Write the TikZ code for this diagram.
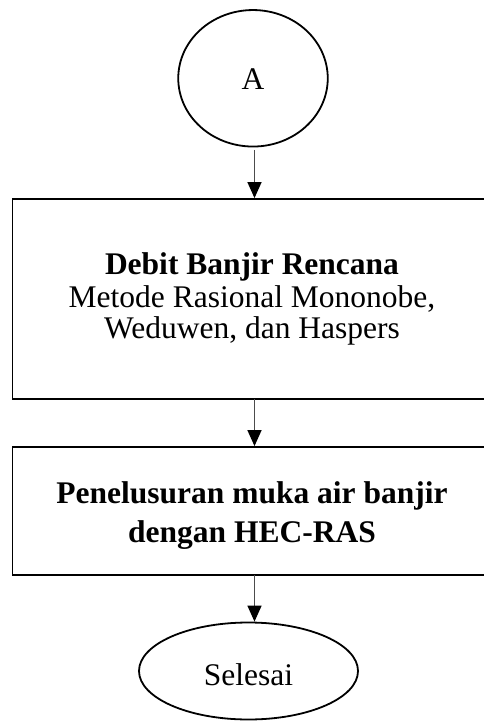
\documentclass[tikz,border=0pt]{standalone}
\usepackage{fontspec}
\setmainfont{Liberation Serif}
\usetikzlibrary{arrows.meta,shapes.geometric}
\begin{document}
\begin{tikzpicture}[x=1pt,y=-1pt,
  font=\fontsize{31.5}{36}\selectfont,
  shapeline/.style={draw=black,line width=1.8pt},
  procbox/.style={shapeline,rectangle,minimum width=483.5pt,inner sep=0pt},
  txt/.style={anchor=base,inner sep=0pt},
  arr/.style={draw=black!70,line width=1.4pt,-{Triangle[length=16pt,width=14pt,color=black]},shorten >=0pt}]
\useasboundingbox (0,0) rectangle (483,722);
% start connector
\node[shapeline,ellipse,minimum width=149.5pt,minimum height=136.5pt,inner sep=0pt,
      text height=23.4pt,text depth=0pt] (A) at (253,78.3) {A};
% box 1
\node[procbox,minimum height=200pt] (box1) at (254.25,299) {};
\node[txt] (b1a) at (252,274) {\textbf{Debit Banjir Rencana}};
\node[txt] (b1b) at (252,307) {Metode Rasional Mononobe,};
\node[txt] (b1c) at (252,338) {Weduwen, dan Haspers};
% box 2
\node[procbox,minimum height=128pt] (box2) at (254.25,511) {};
\node[txt] (b2a) at (252,503) {\textbf{Penelusuran muka air banjir}};
\node[txt] (b2b) at (252,542) {\textbf{dengan HEC-RAS}};
% end
\node[shapeline,ellipse,minimum width=219pt,minimum height=97pt,inner sep=0pt,
      text height=28pt,text depth=0pt] (end) at (248.5,671) {Selesai};
% connectors
\coordinate (a1s) at (254.5,150);
\draw[arr] (a1s) -- (a1s |- box1.north);
\coordinate (a2s) at (254.5,399);
\draw[arr] (a2s) -- (a2s |- box2.north);
\coordinate (a3s) at (254.5,575);
\draw[arr] (a3s) -- (a3s |- end.north);
\end{tikzpicture}
\end{document}
